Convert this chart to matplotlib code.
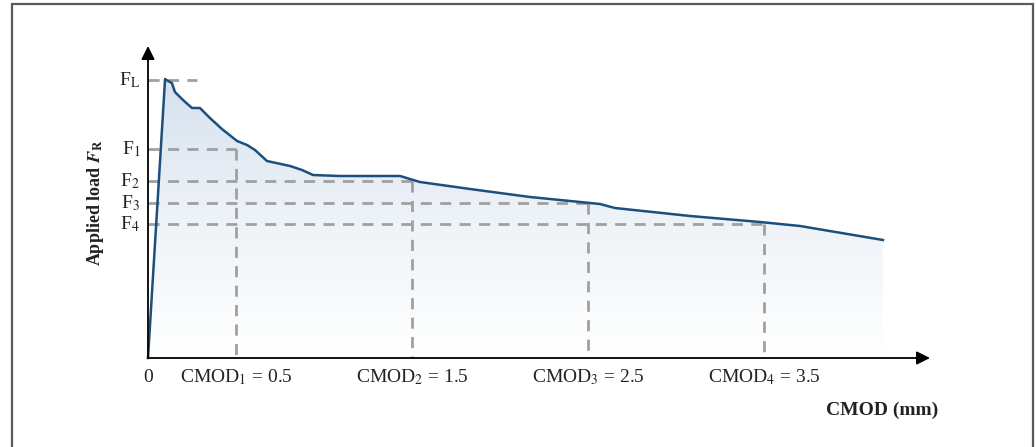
import numpy as np
import matplotlib
matplotlib.use("Agg")
import matplotlib.pyplot as plt
from matplotlib.patches import Polygon, Rectangle
from matplotlib.colors import LinearSegmentedColormap

plt.rcParams['font.family'] = ['Liberation Serif', 'DejaVu Serif']
plt.rcParams['mathtext.fontset'] = 'stix'

# Load-CMOD curve (CMOD in mm, load in arbitrary units)
cmod = [0.0, 0.097, 0.114, 0.136, 0.153, 0.199, 0.25, 0.295, 0.352, 0.42, 0.506,
        0.563, 0.608, 0.676, 0.807, 0.875, 0.938, 1.091, 1.432, 1.545, 1.83, 2.17,
        2.455, 2.568, 2.653, 3.08, 3.477, 3.705, 4.176]
load = [0.0, 27.9, 27.7, 27.5, 26.6, 25.8, 25.0, 25.0, 24.0, 22.9, 21.7,
        21.3, 20.8, 19.7, 19.2, 18.8, 18.3, 18.2, 18.2, 17.6, 16.9, 16.1,
        15.6, 15.4, 15.0, 14.2, 13.6, 13.2, 11.8]

# Reference points
cmod_marks = [0.5, 1.5, 2.5, 3.5]
cmod_labels = ['CMOD$_1$ = 0.5', 'CMOD$_2$ = 1.5', 'CMOD$_3$ = 2.5', 'CMOD$_4$ = 3.5']
f_values = [20.9, 17.7, 15.5, 13.4]
f_labels = ['F$_1$', 'F$_2$', 'F$_3$', 'F$_4$']
fl_value = 27.8
fl_label = 'F$_\\mathrm{L}$'

W, H = 1036, 447
fig = plt.figure(figsize=(W / 100, H / 100), dpi=100)
ax = fig.add_axes([0, 0, 1, 1])
sx, sy = 176.0, 10.0
x0px, y0px = 148, 358
ax.set_xlim(-x0px / sx, (W - x0px) / sx)
ax.set_ylim((y0px - H) / sy, y0px / sy)
ax.axis('off')

# frame
fig.patches.append(Rectangle((12 / W, -0.02), (1033 - 12) / W, 1 - 4 / H + 0.02,
                             transform=fig.transFigure, fill=False,
                             edgecolor='#5a5a5a', lw=1.6))

# gradient fill under the curve
poly = Polygon(list(zip(cmod, load)) + [(cmod[-1], 0), (0, 0)], closed=True,
               facecolor='none', edgecolor='none')
ax.add_patch(poly)
cmap = LinearSegmentedColormap.from_list('g', ['#ffffff', '#eef3f8', '#d6e1ef'])
grad = np.linspace(0, 1, 256).reshape(-1, 1)
im = ax.imshow(grad, extent=[0, cmod[-1], 0, max(load)], origin='lower',
               cmap=cmap, aspect='auto', zorder=1)
im.set_clip_path(poly)

dash = dict(color='#a0a0a0', lw=2.0, dashes=(4, 3), zorder=2)
# FL short dashed line
ax.plot([0, 0.28], [fl_value, fl_value], **dash)
for xm, fv in zip(cmod_marks, f_values):
    ax.plot([0, xm], [fv, fv], **dash)
    ax.plot([xm, xm], [fv, 0], **dash)

ax.plot(cmod, load, color='#1d4f7c', lw=1.8, zorder=3, solid_joinstyle='round')

# axes with arrows
ax.annotate('', xy=(0, 31.2), xytext=(0, 0),
            arrowprops=dict(arrowstyle='-|>', mutation_scale=20, lw=1.3,
                            color='black', shrinkA=0, shrinkB=0), zorder=4)
ax.annotate('', xy=((930 - x0px) / sx, 0), xytext=(0, 0),
            arrowprops=dict(arrowstyle='-|>', mutation_scale=20, lw=1.3,
                            color='black', shrinkA=0, shrinkB=0), zorder=4)

# y labels
for fv, lab in zip([fl_value] + f_values, [fl_label] + f_labels):
    ax.text(-0.045, fv, lab, ha='right', va='center', fontsize=14, color='#222222')

# x labels
ax.text(0, -1.9, '0', ha='center', va='center', fontsize=14, color='#222222')
for xm, lab in zip(cmod_marks, cmod_labels):
    ax.text(xm, -1.9, lab, ha='center', va='center', fontsize=14, color='#222222')

ax.text((938 - x0px) / sx, -5.2, 'CMOD (mm)', ha='right', va='center',
        fontsize=14, fontweight='bold', color='#222222')
ax.text((96 - x0px) / sx, 15.5, r'Applied load $\boldsymbol{F}_{\mathbf{R}}$',
        rotation=90, ha='center', va='center', fontsize=13, fontweight='bold',
        color='#222222')

fig.savefig('out.png', dpi=100)
